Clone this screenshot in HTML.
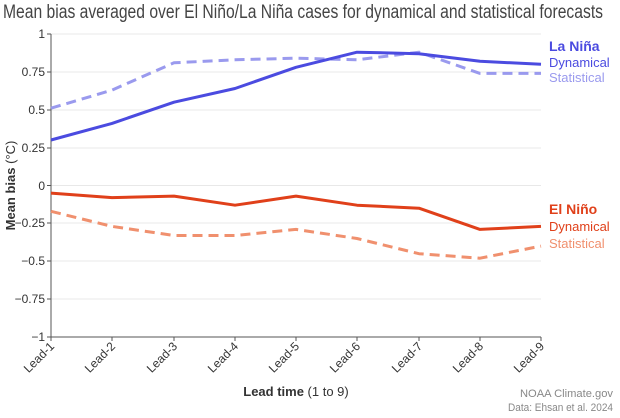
<!DOCTYPE html>
<html><head><meta charset="utf-8"><style>
body{margin:0;background:#fff;width:620px;height:413px;overflow:hidden}
svg{font-family:"Liberation Sans",sans-serif}
</style></head><body>
<svg width="620" height="413" viewBox="0 0 620 413">
<text x="3" y="18" font-size="19" fill="#444" textLength="600" lengthAdjust="spacingAndGlyphs">Mean bias averaged over El Niño/La Niña cases for dynamical and statistical forecasts</text>
<g stroke="#e8e8e8" stroke-width="1">
<line x1="51" x2="541" y1="34" y2="34"/><line x1="51" x2="541" y1="72" y2="72"/><line x1="51" x2="541" y1="110" y2="110"/><line x1="51" x2="541" y1="148" y2="148"/><line x1="51" x2="541" y1="185.5" y2="185.5"/><line x1="51" x2="541" y1="223" y2="223"/><line x1="51" x2="541" y1="261" y2="261"/><line x1="51" x2="541" y1="299" y2="299"/>
</g>
<g stroke="#555" stroke-width="1">
<line x1="51" y1="34" x2="51" y2="337"/><line x1="51" y1="337" x2="541" y2="337"/>
<line x1="47" x2="51" y1="34" y2="34"/><line x1="47" x2="51" y1="72" y2="72"/><line x1="47" x2="51" y1="110" y2="110"/><line x1="47" x2="51" y1="148" y2="148"/><line x1="47" x2="51" y1="185.5" y2="185.5"/><line x1="47" x2="51" y1="223" y2="223"/><line x1="47" x2="51" y1="261" y2="261"/><line x1="47" x2="51" y1="299" y2="299"/><line x1="47" x2="51" y1="337" y2="337"/>
<line x1="51" x2="51" y1="337" y2="341"/><line x1="112" x2="112" y1="337" y2="341"/><line x1="174" x2="174" y1="337" y2="341"/><line x1="235" x2="235" y1="337" y2="341"/><line x1="296" x2="296" y1="337" y2="341"/><line x1="357" x2="357" y1="337" y2="341"/><line x1="419" x2="419" y1="337" y2="341"/><line x1="480" x2="480" y1="337" y2="341"/><line x1="541" x2="541" y1="337" y2="341"/>
</g>
<g font-size="12" fill="#333" text-anchor="end">
<text x="45" y="38">1</text><text x="45" y="76">0.75</text><text x="45" y="114">0.5</text><text x="45" y="152">0.25</text><text x="45" y="190">0</text><text x="45" y="227">−0.25</text><text x="45" y="265">−0.5</text><text x="45" y="303">−0.75</text><text x="45" y="341">−1</text>
</g>
<g font-size="12" fill="#333" text-anchor="end">
<text transform="translate(55,347) rotate(-45)">Lead-1</text><text transform="translate(116,347) rotate(-45)">Lead-2</text><text transform="translate(178,347) rotate(-45)">Lead-3</text><text transform="translate(239,347) rotate(-45)">Lead-4</text><text transform="translate(300,347) rotate(-45)">Lead-5</text><text transform="translate(361,347) rotate(-45)">Lead-6</text><text transform="translate(423,347) rotate(-45)">Lead-7</text><text transform="translate(484,347) rotate(-45)">Lead-8</text><text transform="translate(545,347) rotate(-45)">Lead-9</text>
</g>
<text x="296" y="396" font-size="13" fill="#333" text-anchor="middle"><tspan font-weight="bold">Lead time</tspan> (1 to 9)</text>
<text transform="translate(15,185.5) rotate(-90)" font-size="13" fill="#333" text-anchor="middle"><tspan font-weight="bold">Mean bias</tspan> (°C)</text>
<text x="613" y="397" font-size="11" fill="#888" text-anchor="end" textLength="93" lengthAdjust="spacingAndGlyphs">NOAA Climate.gov</text>
<text x="613" y="411" font-size="11" fill="#888" text-anchor="end" textLength="105" lengthAdjust="spacingAndGlyphs">Data: Ehsan et al. 2024</text>
<g fill="none" stroke-width="3" stroke-linejoin="round">
<polyline stroke="#9a9aee" stroke-dasharray="10,6" points="51,108.2 112,90.1 174,62.8 235,59.8 296,58.2 357,59.8 419,52.2 480,73.4 541,73.4"/>
<polyline stroke="#4b4be0" points="51,140 112,123.4 174,102.2 235,88.5 296,67.3 357,52.2 419,53.7 480,61.3 541,64.3"/>
<polyline stroke="#f0906e" stroke-dasharray="10,6" points="51,211.3 112,226.4 174,235.5 235,235.5 296,229.4 357,238.5 419,253.7 480,258.2 541,246.1"/>
<polyline stroke="#e0401a" points="51,193.1 112,197.6 174,196.1 235,205.2 296,196.1 357,205.2 419,208.2 480,229.4 541,226.4"/>
</g>
<text x="549" y="51" font-size="14" font-weight="bold" fill="#4b4be0">La Niña</text>
<text x="549" y="67" font-size="13" fill="#4b4be0">Dynamical</text>
<text x="549" y="82" font-size="13" fill="#9a9aee">Statistical</text>
<text x="549" y="214" font-size="14" font-weight="bold" fill="#e0401a">El Niño</text>
<text x="549" y="231" font-size="13" fill="#e0401a">Dynamical</text>
<text x="549" y="248" font-size="13" fill="#f0906e">Statistical</text>
</svg>
</body></html>
